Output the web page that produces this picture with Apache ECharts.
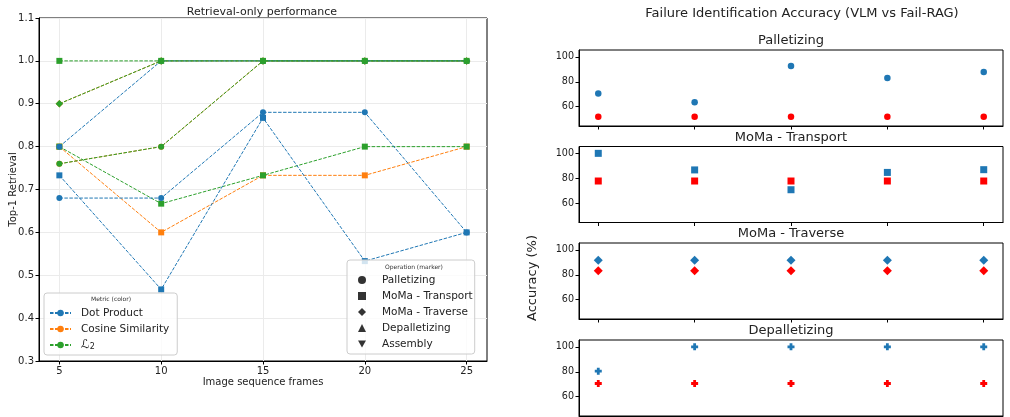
<!DOCTYPE html>
<html>
<head>
<meta charset="utf-8">
<title>Retrieval-only performance / Failure Identification Accuracy</title>
<script src="https://cdn.jsdelivr.net/npm/echarts@6.0.0/dist/echarts.min.js"></script>
<style>
  html, body { margin: 0; padding: 0; background: #fff; }
  #chart { width: 1010px; height: 417px; }
</style>
</head>
<body>
<div id="chart"></div>
<script>
// left panel: top-1 retrieval vs image sequence frames
const frames = [5, 10, 15, 20, 25]
const frameTicks = [5, 10, 15, 20, 25]
const dotPalletizing = [0.68, 0.68, 0.88, 0.88, 0.6]
const dotTransport = [0.733, 0.467, 0.867, 0.533, 0.6]
const dotTraverse = [0.8, 1.0, 1.0, 1.0, 1.0] // marker reads as a circle in the source
const cosPalletizing = [0.76, 0.8, 1.0, 1.0, 1.0]
const cosTransport = [0.8, 0.6, 0.733, 0.733, 0.8]
const cosTraverse = [0.9, 1.0, 1.0, 1.0, 1.0]
const l2Palletizing = [0.76, 0.8, 1.0, 1.0, 1.0]
const l2Transport = [0.8, 0.667, 0.733, 0.8, 0.8]
const l2Traverse = [0.9, 1.0, 1.0, 1.0, 1.0]
const l2Depalletizing = [1.0, 1.0, 1.0, 1.0, 1.0]

const metricNames = ['Dot Product', 'Cosine Similarity', 'ℒ₂']
const operationNames = ['Palletizing', 'MoMa - Transport', 'MoMa - Traverse', 'Depalletizing', 'Assembly']
const operationSymbols = ['circle', 'rect', 'diamond', 'triangle', 'path://M0,0L10,0L5,9Z']

// right panel: accuracy per run, Fail-RAG (blue) vs VLM (red)
const runs = [0, 1, 2, 3, 4]
const accuracyTicks = [60, 80, 100]
const subplotTitles = ['Palletizing', 'MoMa - Transport', 'MoMa - Traverse', 'Depalletizing']
const failRagPalletizing = [70.6, 63.5, 92.6, 83.0, 87.8]
const vlmPalletizing = [52, 52, 52, 52, 52]
const failRagTransport = [100, 86.7, 70.8, 84.7, 86.9]
const vlmTransport = [77.8, 77.8, 77.8, 77.8, 77.8]
const failRagTraverse = [91.7, 91.7, 91.7, 91.7, 91.7]
const vlmTraverse = [83.3, 83.3, 83.3, 83.3, 83.3]
const failRagDepalletizing = [80.5, 100, 100, 100, 100]
const vlmDepalletizing = [70.6, 70.6, 70.6, 70.6, 70.6]

const BLUE = '#1f77b4'
const ORANGE = '#ff7f0e'
const GREEN = '#2ca02c'
const RED = '#ff0000'
const INK = '#222'
const FONT = 'DejaVu Sans'
const PLUS = 'path://M3,0H7V3H10V7H7V10H3V7H0V3H3Z'

function retrievalLine(name, values, symbol, color, z) {
  return {
    name,
    type: 'line',
    xAxisIndex: 0,
    yAxisIndex: 0,
    z,
    data: frames.map((f, i) => [f, values[i]]),
    symbol,
    symbolSize: symbol === 'diamond' ? 7.5 : 6,
    showAllSymbol: true,
    itemStyle: { color },
    lineStyle: { color, width: 1, type: [3.5, 1.5] },
    emphasis: { disabled: true },
  }
}

function accuracyDots(name, values, symbol, size, color, idx) {
  return {
    name,
    type: 'scatter',
    xAxisIndex: idx,
    yAxisIndex: idx,
    data: runs.map((r, i) => [r, values[i]]),
    symbol,
    symbolSize: size,
    itemStyle: { color, opacity: 1 },
    emphasis: { disabled: true },
  }
}

const panelTops = [50, 146.5, 243, 340]
const panelData = [
  [failRagPalletizing, vlmPalletizing, 'circle', 6.5],
  [failRagTransport, vlmTransport, 'rect', 7],
  [failRagTraverse, vlmTraverse, 'diamond', 9],
  [failRagDepalletizing, vlmDepalletizing, PLUS, 7],
]

const grids = [{ left: 39, top: 18, width: 448, height: 343, show: true, borderColor: '#000', borderWidth: 1 }]
const xAxes = [{
  type: 'value', gridIndex: 0, min: 4, max: 26,
  name: 'Image sequence frames', nameLocation: 'middle', nameGap: 16.5, nameMoveOverlap: false,
  nameTextStyle: { fontSize: 10, color: INK },
  axisLine: { onZero: false, lineStyle: { color: '#000' } },
  axisTick: { customValues: frameTicks, length: 3.5, lineStyle: { color: '#000' } },
  axisLabel: { customValues: frameTicks, fontSize: 10, color: INK, margin: 5 },
  splitLine: { show: true, customValues: frameTicks, lineStyle: { color: '#ebebeb' } },
}]
const yAxes = [{
  type: 'value', gridIndex: 0, min: 0.3, max: 1.1, interval: 0.1,
  name: 'Top-1 Retrieval', nameLocation: 'middle', nameGap: 21, nameRotate: 90, nameMoveOverlap: false,
  nameTextStyle: { fontSize: 10, color: INK },
  axisLine: { show: true, onZero: false, lineStyle: { color: '#000' } },
  axisTick: { show: true, length: 3.5, lineStyle: { color: '#000' } },
  axisLabel: { fontSize: 10, color: INK, margin: 5, formatter: (v) => v.toFixed(1) },
  splitLine: { show: true, lineStyle: { color: '#ebebeb' } },
}]

const series = [
  // first series of each metric gives the legend its circle icon
  retrievalLine('Dot Product', dotPalletizing, 'circle', BLUE, 8),
  retrievalLine('Cosine Similarity', cosPalletizing, 'circle', ORANGE, 3),
  retrievalLine('ℒ₂', l2Palletizing, 'circle', GREEN, 6),
  retrievalLine('Cosine Similarity', cosTransport, 'rect', ORANGE, 2),
  retrievalLine('Cosine Similarity', cosTraverse, 'diamond', ORANGE, 4),
  retrievalLine('ℒ₂', l2Transport, 'rect', GREEN, 5),
  retrievalLine('ℒ₂', l2Traverse, 'diamond', GREEN, 7),
  retrievalLine('Dot Product', dotTransport, 'rect', BLUE, 9),
  retrievalLine('Dot Product', dotTraverse, 'circle', BLUE, 10),
  retrievalLine('ℒ₂', l2Depalletizing, 'rect', GREEN, 11),
]

// marker legend entries, no data
operationNames.forEach((name, i) => {
  series.push({
    name, type: 'scatter', xAxisIndex: 0, yAxisIndex: 0, data: [],
    symbol: operationSymbols[i], itemStyle: { color: '#000' },
  })
})

panelTops.forEach((top, k) => {
  const idx = k + 1
  grids.push({ left: 579, top, width: 424, height: 76, show: true, borderColor: '#000', borderWidth: 1 })
  xAxes.push({
    type: 'value', gridIndex: idx, min: -0.2, max: 4.2,
    axisLine: { onZero: false, lineStyle: { color: '#000' } },
    axisTick: { customValues: runs, length: 3.5, lineStyle: { color: '#000' } },
    axisLabel: { show: false },
    splitLine: { show: false },
  })
  yAxes.push({
    type: 'value', gridIndex: idx, min: 44.5, max: 105.5,
    axisLine: { show: true, onZero: false, lineStyle: { color: '#000' } },
    axisTick: { show: true, customValues: accuracyTicks, length: 3.5, lineStyle: { color: '#000' } },
    axisLabel: { customValues: accuracyTicks, fontSize: 9.6, color: INK, margin: 5 },
    splitLine: { show: false },
  })
  const [blue, red, symbol, size] = panelData[k]
  series.push(accuracyDots('Fail-RAG', blue, symbol, size, BLUE, idx))
  series.push(accuracyDots('VLM', red, symbol, size, RED, idx))
})

const titles = [
  { text: 'Retrieval-only performance', left: 262, top: 6.5, textAlign: 'center', padding: 0,
    textStyle: { fontSize: 11, fontWeight: 'normal', color: INK } },
  { text: 'Failure Identification Accuracy (VLM vs Fail-RAG)', left: 802, top: 7, textAlign: 'center', padding: 0,
    textStyle: { fontSize: 13, fontWeight: 'normal', color: INK } },
  { text: 'Metric (color)', left: 111, top: 296, textAlign: 'center', padding: 0, z: 30,
    textStyle: { fontSize: 6, fontWeight: 'normal', color: '#333' } },
  { text: 'Operation (marker)', left: 414, top: 264, textAlign: 'center', padding: 0, z: 30,
    textStyle: { fontSize: 6, fontWeight: 'normal', color: '#333' } },
]
subplotTitles.forEach((text, k) => {
  titles.push({ text, left: 791, top: panelTops[k] - 15.5, textAlign: 'center', padding: 0,
    textStyle: { fontSize: 13, fontWeight: 'normal', color: INK } })
})

const legendBox = {
  orient: 'vertical', itemHeight: 8, itemGap: 4, selectedMode: false, z: 20,
  backgroundColor: 'rgba(255,255,255,0.8)', borderColor: '#cccccc', borderWidth: 1, borderRadius: 3,
}

const chart = echarts.init(document.getElementById('chart'), null, { renderer: 'canvas' })
chart.setOption({
  animation: false,
  textStyle: { fontFamily: FONT },
  title: titles,
  grid: grids,
  xAxis: xAxes,
  yAxis: yAxes,
  legend: [
    { ...legendBox, data: metricNames, left: 44, top: 293, padding: [14, 8, 4, 5], itemWidth: 21,
      formatter: (name) => (name === 'ℒ₂' ? '{m|ℒ}{s|2}' : name),
      textStyle: {
        fontSize: 10.5, color: INK, lineHeight: 12, padding: [0, 0, 0, 5],
        rich: {
          m: { fontSize: 12, fontStyle: 'italic', color: INK },
          s: { fontSize: 8, color: INK, verticalAlign: 'bottom', padding: [4, 0, 0, 0] },
        },
      } },
    { ...legendBox, data: operationNames, left: 347, top: 260, padding: [14, 2, 4, 11], itemWidth: 8,
      textStyle: { fontSize: 10.5, color: INK, lineHeight: 12, padding: [0, 0, 0, 11] } },
  ],
  graphic: [{
    type: 'text', x: 533, y: 278, rotation: Math.PI / 2,
    style: { text: 'Accuracy (%)', font: '13px "DejaVu Sans"', fill: INK, align: 'center', verticalAlign: 'middle' },
  }],
  series,
})
</script>
</body>
</html>
